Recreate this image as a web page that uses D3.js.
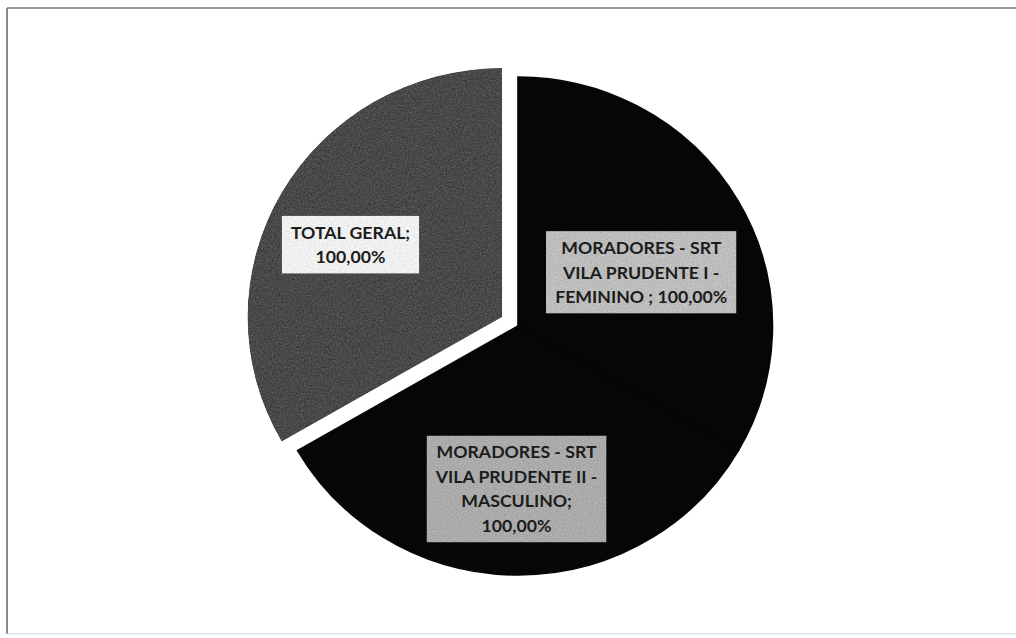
<!DOCTYPE html>
<html>
<head>
<meta charset="utf-8">
<script src="https://cdn.jsdelivr.net/npm/d3@7"></script>
<style>
  html, body { margin: 0; padding: 0; background: #ffffff; }
  svg { display: block; }
</style>
</head>
<body>
<svg id="chart" width="1016" height="638"></svg>
<script>
// ---- data ----
const categories = [
  "MORADORES - SRT VILA PRUDENTE I - FEMININO",
  "MORADORES - SRT VILA PRUDENTE II - MASCULINO",
  "TOTAL GERAL"
];
const values = [100, 100, 100];
const valueLabels = ["100,00%", "100,00%", "100,00%"];
const labelLines = [
  ["MORADORES - SRT", "VILA PRUDENTE I -", "FEMININO ; 100,00%"],
  ["MORADORES - SRT", "VILA PRUDENTE II -", "MASCULINO;", "100,00%"],
  ["TOTAL GERAL;", "100,00%"]
];

// ---- styles ----
const sliceFill = ["#060606", "#060606", "#494949"];
const boxFill = ["#bdbdbd", "#ababab", "#f0f0f0"];
const explode = [0, 0, 18];
const labelRadius = [132, 163, 165];
const labelAngleShift = [6, 0.5, -4]; // degrees

const W = 1016, H = 638;
const cx = 518, cy = 326, R = 249, sx = 1.022;
const svg = d3.select("#chart");

// grain filter
const defs = svg.append("defs");
function grain(id, amount, seed, freq) {
  const f = defs.append("filter").attr("id", id)
    .attr("x", "0").attr("y", "0").attr("width", "100%").attr("height", "100%")
    .attr("color-interpolation-filters", "sRGB");
  f.append("feTurbulence").attr("type", "fractalNoise").attr("baseFrequency", freq)
    .attr("numOctaves", 2).attr("seed", seed).attr("result", "n");
  f.append("feColorMatrix").attr("in", "n").attr("type", "matrix")
    .attr("values", "0.33 0.33 0.33 0 0  0.33 0.33 0.33 0 0  0.33 0.33 0.33 0 0  0 0 0 0 1")
    .attr("result", "g");
  f.append("feComposite").attr("in", "SourceGraphic").attr("in2", "g")
    .attr("operator", "arithmetic").attr("k1", 0).attr("k2", 1)
    .attr("k3", amount).attr("k4", -amount / 2).attr("result", "m");
  f.append("feComposite").attr("in", "m").attr("in2", "SourceGraphic").attr("operator", "in");
}
grain("grainDark", 0.4, 4, 0.6);
grain("grainLight", 0.3, 9, 0.75);

// frame
svg.append("line").attr("x1", 7).attr("y1", 8).attr("x2", W).attr("y2", 8)
  .attr("stroke", "#9a9a9a").attr("stroke-width", 2);
svg.append("line").attr("x1", 7).attr("y1", 8).attr("x2", 7).attr("y2", 634)
  .attr("stroke", "#8a8a8a").attr("stroke-width", 2);
svg.append("line").attr("x1", 7).attr("y1", 634).attr("x2", W).attr("y2", 634)
  .attr("stroke", "#e2e2e2").attr("stroke-width", 1.5);

const pie = d3.pie().sort(null).value(d => d)(values);
const arc = d3.arc().innerRadius(0).outerRadius(R);

const g = svg.append("g").attr("transform", `translate(${cx},${cy}) scale(${sx},1)`);

function polar(a, r) { return [Math.sin(a) * r, -Math.cos(a) * r]; }

pie.forEach((p, i) => {
  const mid = (p.startAngle + p.endAngle) / 2;
  const [ox, oy] = polar(mid, explode[i]);
  g.append("path")
    .attr("d", arc(p))
    .attr("transform", `translate(${ox},${oy})`)
    .attr("fill", sliceFill[i])
    .attr("stroke", i === 2 ? "none" : sliceFill[i])
    .attr("stroke-width", 1.6)
    .attr("filter", i === 2 ? "url(#grainDark)" : null);
});

// labels
const fontSize = 17.3, lineH = 24.5;
pie.forEach((p, i) => {
  const mid = (p.startAngle + p.endAngle) / 2 + labelAngleShift[i] * Math.PI / 180;
  const [ox, oy] = polar((p.startAngle + p.endAngle) / 2, explode[i]);
  const [lx, ly] = polar(mid, labelRadius[i]);
  const x = ox + lx, y = oy + ly;
  const lg = g.append("g").attr("transform", `translate(${x},${y})`);
  const rect = lg.append("rect").attr("fill", boxFill[i]).attr("filter", "url(#grainLight)");
  const lines = labelLines[i];
  const n = lines.length;
  let maxW = 0;
  lines.forEach((t, k) => {
    const tx = lg.append("text")
      .attr("x", 0)
      .attr("y", (k - (n - 1) / 2) * lineH)
      .attr("dy", "0.36em")
      .attr("text-anchor", "middle")
      .attr("font-family", "Lato, 'Open Sans', sans-serif")
      .attr("font-weight", "bold")
      .attr("font-size", fontSize)
      .attr("fill", "#1c1c1c")
      .text(t);
    maxW = Math.max(maxW, tx.node().getComputedTextLength());
  });
  const bw = maxW + 18, bh = n * lineH + 9;
  rect.attr("x", -bw / 2).attr("y", -bh / 2).attr("width", bw).attr("height", bh);
});
</script>
</body>
</html>
